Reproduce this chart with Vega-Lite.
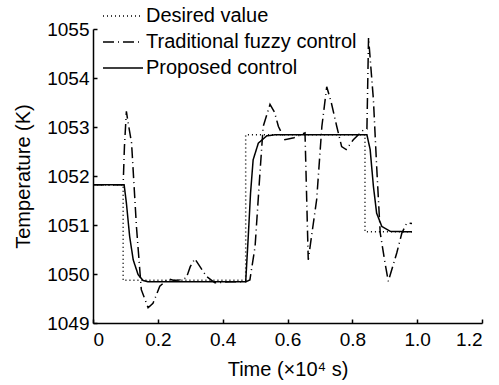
{
  "$schema": "https://vega.github.io/schema/vega-lite/v6.json",
  "width": 389,
  "height": 294,
  "autosize": "none",
  "padding": {"left": 93, "top": 29, "right": 17, "bottom": 62},
  "background": "white",
  "config": {
    "view": {"stroke": null},
    "font": "Liberation Sans",
    "axis": {"grid": false, "domainColor": "black", "domainWidth": 1.5, "tickColor": "black", "tickWidth": 1.5, "labelColor": "black", "titleColor": "black", "labelFont": "Liberation Sans", "titleFont": "Liberation Sans", "labelFontSize": 19, "titleFontSize": 20, "titleFontWeight": "normal"}
  },
  "data": {"values": [
    {"s": "Desired value", "i": 0, "t": 0, "T": 1051.82},
    {"s": "Desired value", "i": 1, "t": 0.093, "T": 1051.82},
    {"s": "Desired value", "i": 2, "t": 0.093, "T": 1049.87},
    {"s": "Desired value", "i": 3, "t": 0.471, "T": 1049.87},
    {"s": "Desired value", "i": 4, "t": 0.471, "T": 1052.84},
    {"s": "Desired value", "i": 5, "t": 0.839, "T": 1052.84},
    {"s": "Desired value", "i": 6, "t": 0.839, "T": 1050.86},
    {"s": "Desired value", "i": 7, "t": 0.984, "T": 1050.86},

    {"s": "Traditional fuzzy control", "i": 0, "t": 0, "T": 1051.82},
    {"s": "Traditional fuzzy control", "i": 1, "t": 0.093, "T": 1051.82},
    {"s": "Traditional fuzzy control", "i": 2, "t": 0.097, "T": 1052.6},
    {"s": "Traditional fuzzy control", "i": 3, "t": 0.103, "T": 1053.32},
    {"s": "Traditional fuzzy control", "i": 4, "t": 0.108, "T": 1053.1},
    {"s": "Traditional fuzzy control", "i": 5, "t": 0.119, "T": 1052.67},
    {"s": "Traditional fuzzy control", "i": 6, "t": 0.134, "T": 1050.97},
    {"s": "Traditional fuzzy control", "i": 7, "t": 0.149, "T": 1049.68},
    {"s": "Traditional fuzzy control", "i": 8, "t": 0.17, "T": 1049.31},
    {"s": "Traditional fuzzy control", "i": 9, "t": 0.185, "T": 1049.4},
    {"s": "Traditional fuzzy control", "i": 10, "t": 0.206, "T": 1049.75},
    {"s": "Traditional fuzzy control", "i": 11, "t": 0.232, "T": 1049.9},
    {"s": "Traditional fuzzy control", "i": 12, "t": 0.25, "T": 1049.87},
    {"s": "Traditional fuzzy control", "i": 13, "t": 0.268, "T": 1049.88},
    {"s": "Traditional fuzzy control", "i": 14, "t": 0.288, "T": 1049.92},
    {"s": "Traditional fuzzy control", "i": 15, "t": 0.3, "T": 1050.15},
    {"s": "Traditional fuzzy control", "i": 16, "t": 0.314, "T": 1050.31},
    {"s": "Traditional fuzzy control", "i": 17, "t": 0.33, "T": 1050.15},
    {"s": "Traditional fuzzy control", "i": 18, "t": 0.35, "T": 1049.95},
    {"s": "Traditional fuzzy control", "i": 19, "t": 0.376, "T": 1049.82},
    {"s": "Traditional fuzzy control", "i": 20, "t": 0.42, "T": 1049.84},
    {"s": "Traditional fuzzy control", "i": 21, "t": 0.471, "T": 1049.84},
    {"s": "Traditional fuzzy control", "i": 22, "t": 0.484, "T": 1049.88},
    {"s": "Traditional fuzzy control", "i": 23, "t": 0.5, "T": 1050.56},
    {"s": "Traditional fuzzy control", "i": 24, "t": 0.515, "T": 1052.06},
    {"s": "Traditional fuzzy control", "i": 25, "t": 0.525, "T": 1053.01},
    {"s": "Traditional fuzzy control", "i": 26, "t": 0.546, "T": 1053.46},
    {"s": "Traditional fuzzy control", "i": 27, "t": 0.56, "T": 1053.3},
    {"s": "Traditional fuzzy control", "i": 28, "t": 0.572, "T": 1053.01},
    {"s": "Traditional fuzzy control", "i": 29, "t": 0.592, "T": 1052.74},
    {"s": "Traditional fuzzy control", "i": 30, "t": 0.62, "T": 1052.78},
    {"s": "Traditional fuzzy control", "i": 31, "t": 0.654, "T": 1052.88},
    {"s": "Traditional fuzzy control", "i": 32, "t": 0.664, "T": 1050.29},
    {"s": "Traditional fuzzy control", "i": 33, "t": 0.69, "T": 1051.52},
    {"s": "Traditional fuzzy control", "i": 34, "t": 0.706, "T": 1053.01},
    {"s": "Traditional fuzzy control", "i": 35, "t": 0.721, "T": 1053.82},
    {"s": "Traditional fuzzy control", "i": 36, "t": 0.735, "T": 1053.5},
    {"s": "Traditional fuzzy control", "i": 37, "t": 0.752, "T": 1053.01},
    {"s": "Traditional fuzzy control", "i": 38, "t": 0.767, "T": 1052.6},
    {"s": "Traditional fuzzy control", "i": 39, "t": 0.781, "T": 1052.54},
    {"s": "Traditional fuzzy control", "i": 40, "t": 0.803, "T": 1052.74},
    {"s": "Traditional fuzzy control", "i": 41, "t": 0.834, "T": 1052.94},
    {"s": "Traditional fuzzy control", "i": 42, "t": 0.845, "T": 1052.96},
    {"s": "Traditional fuzzy control", "i": 43, "t": 0.85, "T": 1054.82},
    {"s": "Traditional fuzzy control", "i": 44, "t": 0.865, "T": 1053.56},
    {"s": "Traditional fuzzy control", "i": 45, "t": 0.875, "T": 1052.2},
    {"s": "Traditional fuzzy control", "i": 46, "t": 0.886, "T": 1050.84},
    {"s": "Traditional fuzzy control", "i": 47, "t": 0.901, "T": 1050.22},
    {"s": "Traditional fuzzy control", "i": 48, "t": 0.911, "T": 1049.85},
    {"s": "Traditional fuzzy control", "i": 49, "t": 0.937, "T": 1050.43},
    {"s": "Traditional fuzzy control", "i": 50, "t": 0.953, "T": 1050.84},
    {"s": "Traditional fuzzy control", "i": 51, "t": 0.968, "T": 1051.04},
    {"s": "Traditional fuzzy control", "i": 52, "t": 0.984, "T": 1051.03},

    {"s": "Proposed control", "i": 0, "t": 0, "T": 1051.82},
    {"s": "Proposed control", "i": 1, "t": 0.096, "T": 1051.82},
    {"s": "Proposed control", "i": 2, "t": 0.103, "T": 1051.45},
    {"s": "Proposed control", "i": 3, "t": 0.113, "T": 1050.77},
    {"s": "Proposed control", "i": 4, "t": 0.124, "T": 1050.29},
    {"s": "Proposed control", "i": 5, "t": 0.139, "T": 1049.99},
    {"s": "Proposed control", "i": 6, "t": 0.154, "T": 1049.87},
    {"s": "Proposed control", "i": 7, "t": 0.17, "T": 1049.84},
    {"s": "Proposed control", "i": 8, "t": 0.471, "T": 1049.84},
    {"s": "Proposed control", "i": 9, "t": 0.479, "T": 1050.77},
    {"s": "Proposed control", "i": 10, "t": 0.486, "T": 1051.65},
    {"s": "Proposed control", "i": 11, "t": 0.494, "T": 1052.33},
    {"s": "Proposed control", "i": 12, "t": 0.51, "T": 1052.67},
    {"s": "Proposed control", "i": 13, "t": 0.536, "T": 1052.82},
    {"s": "Proposed control", "i": 14, "t": 0.56, "T": 1052.84},
    {"s": "Proposed control", "i": 15, "t": 0.845, "T": 1052.84},
    {"s": "Proposed control", "i": 16, "t": 0.855, "T": 1052.54},
    {"s": "Proposed control", "i": 17, "t": 0.865, "T": 1051.79},
    {"s": "Proposed control", "i": 18, "t": 0.875, "T": 1051.24},
    {"s": "Proposed control", "i": 19, "t": 0.891, "T": 1050.97},
    {"s": "Proposed control", "i": 20, "t": 0.917, "T": 1050.87},
    {"s": "Proposed control", "i": 21, "t": 0.984, "T": 1050.86}
  ]},
  "mark": {"type": "line", "color": "black"},
  "encoding": {
    "x": {"field": "t", "type": "quantitative", "scale": {"domain": [0, 1.2], "nice": false, "zero": false},
      "axis": {"title": "Time (×10⁴ s)", "values": [0, 0.2, 0.4, 0.6, 0.8, 1.0, 1.2], "labelExpr": "datum.value == 0 ? '0' : format(datum.value, '.1f')", "tickSize": -4, "labelPadding": 11, "titlePadding": 10}},
    "y": {"field": "T", "type": "quantitative", "scale": {"domain": [1049, 1055], "nice": false, "zero": false},
      "axis": {"title": "Temperature (K)", "values": [1049, 1050, 1051, 1052, 1053, 1054, 1055], "format": "d", "tickSize": -4, "labelPadding": 8, "titlePadding": 13}},
    "strokeDash": {"field": "s", "type": "nominal",
      "scale": {"domain": ["Desired value", "Traditional fuzzy control", "Proposed control"], "range": [[1, 3], [11, 4, 1, 4], [1, 0]]},
      "legend": {"title": null, "orient": "none", "legendX": 19, "legendY": -24, "symbolType": "M-2,0H2", "symbolSize": 400, "symbolStrokeColor": "black", "symbolStrokeWidth": 1.5, "labelFontSize": 20, "labelColor": "black", "labelFont": "Liberation Sans", "labelLimit": 0, "rowPadding": 5, "labelOffset": 12}},
    "strokeWidth": {"field": "s", "type": "nominal",
      "scale": {"domain": ["Desired value", "Traditional fuzzy control", "Proposed control"], "range": [1.5, 1.5, 2]}, "legend": null},
    "order": {"field": "i", "type": "quantitative"}
  }
}
